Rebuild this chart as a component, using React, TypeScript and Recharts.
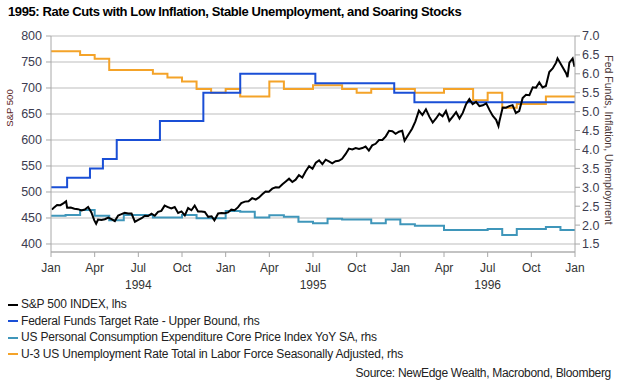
import { LineChart, Line, XAxis, YAxis, CartesianGrid } from 'recharts';

const FONT = '"Liberation Sans", Arial, sans-serif';

const monthNames = ['Jan', 'Apr', 'Jul', 'Oct'];
const yearLabels = ['1994', '1995', '1996'];
const xTicks = [0, 3, 6, 9, 12, 15, 18, 21, 24, 27, 30, 33, 36];
const leftTicks = [400, 450, 500, 550, 600, 650, 700, 750, 800];
const rightTicks = [1.5, 2.0, 2.5, 3.0, 3.5, 4.0, 4.5, 5.0, 5.5, 6.0, 6.5, 7.0];

// S&P 500 closes (weekly, plus a few daily extremes)
const spxDates = [
  '1994-01-03', '1994-01-07', '1994-01-14', '1994-01-21', '1994-01-28', '1994-02-02', '1994-02-04', '1994-02-11',
  '1994-02-18', '1994-02-25', '1994-03-04', '1994-03-11', '1994-03-18', '1994-03-25', '1994-03-31', '1994-04-04',
  '1994-04-08', '1994-04-15', '1994-04-22', '1994-04-29', '1994-05-06', '1994-05-13', '1994-05-20', '1994-05-27',
  '1994-06-03', '1994-06-10', '1994-06-17', '1994-06-24', '1994-07-01', '1994-07-08', '1994-07-15', '1994-07-22',
  '1994-07-29', '1994-08-05', '1994-08-12', '1994-08-19', '1994-08-26', '1994-09-02', '1994-09-09', '1994-09-16',
  '1994-09-23', '1994-09-30', '1994-10-07', '1994-10-14', '1994-10-21', '1994-10-28', '1994-11-04', '1994-11-11',
  '1994-11-18', '1994-11-25', '1994-12-02', '1994-12-08', '1994-12-16', '1994-12-23', '1994-12-30',
  '1995-01-06', '1995-01-13', '1995-01-20', '1995-01-27', '1995-02-03', '1995-02-10', '1995-02-17', '1995-02-24',
  '1995-03-03', '1995-03-10', '1995-03-17', '1995-03-24', '1995-03-31', '1995-04-07', '1995-04-14', '1995-04-21',
  '1995-04-28', '1995-05-05', '1995-05-12', '1995-05-19', '1995-05-26', '1995-06-02', '1995-06-09', '1995-06-16',
  '1995-06-23', '1995-06-30', '1995-07-07', '1995-07-14', '1995-07-21', '1995-07-28', '1995-08-04', '1995-08-11',
  '1995-08-18', '1995-08-25', '1995-09-01', '1995-09-08', '1995-09-15', '1995-09-22', '1995-09-29', '1995-10-06',
  '1995-10-13', '1995-10-20', '1995-10-27', '1995-11-03', '1995-11-10', '1995-11-17', '1995-11-24', '1995-12-01',
  '1995-12-08', '1995-12-15', '1995-12-22', '1995-12-29',
  '1996-01-05', '1996-01-10', '1996-01-19', '1996-01-26', '1996-02-02', '1996-02-09', '1996-02-16', '1996-02-23',
  '1996-03-01', '1996-03-08', '1996-03-15', '1996-03-22', '1996-03-29', '1996-04-05', '1996-04-12', '1996-04-19',
  '1996-04-26', '1996-05-03', '1996-05-10', '1996-05-17', '1996-05-24', '1996-05-31', '1996-06-07', '1996-06-14',
  '1996-06-21', '1996-06-28', '1996-07-05', '1996-07-12', '1996-07-19', '1996-07-24', '1996-07-26', '1996-08-02',
  '1996-08-09', '1996-08-16', '1996-08-23', '1996-08-30', '1996-09-06', '1996-09-13', '1996-09-20', '1996-09-27',
  '1996-10-04', '1996-10-11', '1996-10-18', '1996-10-25', '1996-11-01', '1996-11-08', '1996-11-15', '1996-11-22',
  '1996-11-25', '1996-12-06', '1996-12-13', '1996-12-16', '1996-12-20', '1996-12-27', '1996-12-31',
];
const spxValues = [
  466, 469.9, 474.9, 474.7, 478.7, 482.0, 469.8, 470.2,
  467.7, 467.0, 464.7, 466.4, 471.1, 460.6, 445.8, 438.9,
  447.1, 446.2, 447.6, 450.9, 447.8, 444.1, 454.9, 457.3,
  460.1, 458.7, 458.5, 442.8, 446.2, 449.6, 454.2, 453.9,
  458.3, 454.3, 461.9, 463.7, 473.8, 471.0, 468.2, 471.2,
  459.7, 462.7, 455.1, 469.1, 464.9, 473.8, 462.3, 462.4,
  461.5, 452.3, 453.3, 445.5, 458.8, 459.7, 459.3,
  460.7, 466.0, 464.8, 470.4, 478.7, 481.5, 482.0, 488.1,
  485.4, 489.6, 495.5, 501.0, 500.7, 506.4, 509.2, 508.5,
  514.7, 520.1, 525.6, 519.2, 523.7, 532.5, 527.9, 539.8,
  549.7, 544.8, 556.4, 560.9, 553.5, 562.1, 558.9, 555.1,
  559.2, 560.1, 563.8, 572.7, 583.4, 581.7, 584.4, 582.6,
  584.5, 587.5, 579.7, 589.7, 592.7, 600.0, 600.0, 607.0,
  617.7, 616.9, 612.0, 615.9,
  617.7, 598.5, 611.4, 621.6, 635.8, 656.4, 648.0, 659.1,
  644.4, 633.5, 641.4, 650.6, 645.5, 655.9, 636.7, 645.1,
  653.5, 641.6, 652.1, 668.9, 678.5, 669.1, 673.3, 665.2,
  666.8, 670.6, 657.4, 646.2, 638.7, 626.7, 635.9, 662.5,
  662.1, 665.2, 667.0, 652.0, 655.7, 680.5, 687.0, 686.2,
  701.5, 700.7, 710.8, 700.9, 703.8, 730.8, 737.6, 748.7,
  757.0, 739.6, 728.6, 721.0, 748.9, 756.8, 740.7,
];

// Fed funds target, upper bound (change dates)
const fedDates = [
  '1994-01-01', '1994-02-04', '1994-03-22', '1994-04-18', '1994-05-17', '1994-08-16',
  '1994-11-15', '1995-02-01', '1995-07-06', '1995-12-19', '1996-01-31', '1997-01-01',
];
const fedRates = [3.0, 3.25, 3.5, 3.75, 4.25, 4.75, 5.5, 6.0, 5.75, 5.5, 5.25, 5.25];

// Core PCE YoY, monthly Jan 1994 - Dec 1996
const pceCore = [
  2.25, 2.27, 2.4, 2.25, 2.13, 2.27, 2.27, 2.2, 2.2, 2.27, 2.18, 2.18,
  2.37, 2.35, 2.2, 2.26, 2.22, 2.09, 2.05, 2.17, 2.15, 2.15, 2.05, 2.15,
  2.02, 1.98, 1.98, 1.87, 1.87, 1.87, 1.9, 1.74, 1.9, 1.9, 1.95, 1.87,
];

// U-3 unemployment rate, monthly Jan 1994 - Dec 1996
const unemployment = [
  6.6, 6.6, 6.5, 6.4, 6.1, 6.1, 6.1, 6.0, 5.9, 5.8, 5.6, 5.5,
  5.6, 5.4, 5.4, 5.8, 5.6, 5.6, 5.7, 5.7, 5.6, 5.5, 5.6, 5.6,
  5.6, 5.5, 5.5, 5.6, 5.6, 5.3, 5.5, 5.1, 5.2, 5.2, 5.4, 5.4,
];

const legendItems = [
  { name: 'S&P 500 INDEX, lhs', color: '#000000' },
  { name: 'Federal Funds Target Rate - Upper Bound, rhs', color: '#1a4fd6' },
  { name: 'US Personal Consumption Expenditure Core Price Index YoY SA, rhs', color: '#3f96ba' },
  { name: 'U-3 US Unemployment Rate Total in Labor Force Seasonally Adjusted, rhs', color: '#f4a329' },
];

const toT = (s: string) => {
  const [y, m, d] = s.split('-').map(Number);
  const days = new Date(y, m, 0).getDate();
  return (y - 1994) * 12 + (m - 1) + (d - 1) / days;
};

const spxData = spxDates.map((d, i) => ({ t: toT(d), v: spxValues[i] }));
const fedData = fedDates.map((d, i) => ({ t: toT(d), v: fedRates[i] }));
const monthly = (vals: number[]) => [
  ...vals.map((v, i) => ({ t: i, v })),
  { t: vals.length, v: vals[vals.length - 1] },
];
const pceData = monthly(pceCore);
const unempData = monthly(unemployment);

const MonthTick = (props: any) => {
  const { x, y, payload } = props;
  const m = payload.value;
  const label = monthNames[(m % 12) / 3];
  const year = m % 12 === 6 ? yearLabels[Math.floor(m / 12)] : null;
  return (
    <g>
      <text x={x} y={y + 13} textAnchor="middle" fontSize={12} fill="#333" fontFamily={FONT}>{label}</text>
      {year && (
        <text x={x} y={y + 30} textAnchor="middle" fontSize={12} fill="#333" fontFamily={FONT}>{year}</text>
      )}
    </g>
  );
};

const LeftTitle = () => (
  <text x={13} y={108} transform="rotate(-90, 13, 108)" textAnchor="middle" fontSize={9.5}
    fill="#5a1c1c" fontFamily={FONT}>S&amp;P 500</text>
);

const RightTitle = () => (
  <text x={605} y={140} transform="rotate(90, 605, 140)" textAnchor="middle" fontSize={10.5}
    fill="#4a3636" fontFamily={FONT}>Fed Funds, Inflation, Unemployment</text>
);

export default function App() {
  return (
    <div style={{ position: 'absolute', left: 0, top: 0, width: 623, height: 391, background: '#fff', fontFamily: FONT }}>
      <div style={{ position: 'absolute', left: 8, top: 4, fontSize: 13, letterSpacing: -0.4, fontWeight: 'bold', color: '#000', whiteSpace: 'nowrap' }}>
        1995: Rate Cuts with Low Inflation, Stable Unemployment, and Soaring Stocks
      </div>
      <div style={{ position: 'absolute', left: 0, top: 0 }}>
        <LineChart width={623} height={300} margin={{ top: 36, right: 8, bottom: 8, left: 0 }}>
          <CartesianGrid yAxisId="left" vertical={false} stroke="#d3d3d3" strokeWidth={1.5} />
          <XAxis
            dataKey="t"
            type="number"
            domain={[0, 36]}
            ticks={xTicks}
            interval={0}
            tick={<MonthTick />}
            tickSize={5}
            height={40}
            stroke="#a8a8a8"
            allowDataOverflow
          />
          <YAxis
            yAxisId="left"
            domain={[384.6, 800]}
            ticks={leftTicks}
            interval={0}
            width={51}
            tickSize={5}
            tickMargin={4}
            stroke="#a8a8a8"
            tick={{ fontSize: 12.5, fill: '#3c3c50', fontFamily: FONT }}
            allowDataOverflow
            label={<LeftTitle />}
          />
          <YAxis
            yAxisId="right"
            orientation="right"
            domain={[1.289, 7.0]}
            ticks={rightTicks}
            interval={0}
            tickFormatter={(v: number) => v.toFixed(1)}
            width={40}
            tickSize={5}
            tickMargin={2}
            stroke="#a8a8a8"
            tick={{ fontSize: 12.5, fill: '#3c3c50', fontFamily: FONT }}
            allowDataOverflow
            label={<RightTitle />}
          />
          <Line yAxisId="right" data={unempData} dataKey="v" type="stepAfter" stroke="#f4a329" strokeWidth={2} dot={false} isAnimationActive={false} />
          <Line yAxisId="right" data={pceData} dataKey="v" type="stepAfter" stroke="#3f96ba" strokeWidth={2} dot={false} isAnimationActive={false} />
          <Line yAxisId="right" data={fedData} dataKey="v" type="stepAfter" stroke="#1a4fd6" strokeWidth={2} dot={false} isAnimationActive={false} />
          <Line yAxisId="left" data={spxData} dataKey="v" type="linear" stroke="#000" strokeWidth={2} dot={false} isAnimationActive={false} />
        </LineChart>
      </div>
      <div style={{ position: 'absolute', left: 8, top: 296, fontSize: 12, color: '#222', lineHeight: '16.5px' }}>
        {legendItems.map((it) => (
          <div key={it.name} style={{ whiteSpace: 'nowrap', letterSpacing: -0.2 }}>
            <span style={{ display: 'inline-block', width: 10, height: 2, background: it.color, verticalAlign: 'middle', marginRight: 3 }} />
            {it.name}
          </div>
        ))}
      </div>
      <div style={{ position: 'absolute', right: 12, top: 366, fontSize: 12, color: '#222', whiteSpace: 'nowrap', letterSpacing: -0.3 }}>
        Source: NewEdge Wealth, Macrobond, Bloomberg
      </div>
    </div>
  );
}
